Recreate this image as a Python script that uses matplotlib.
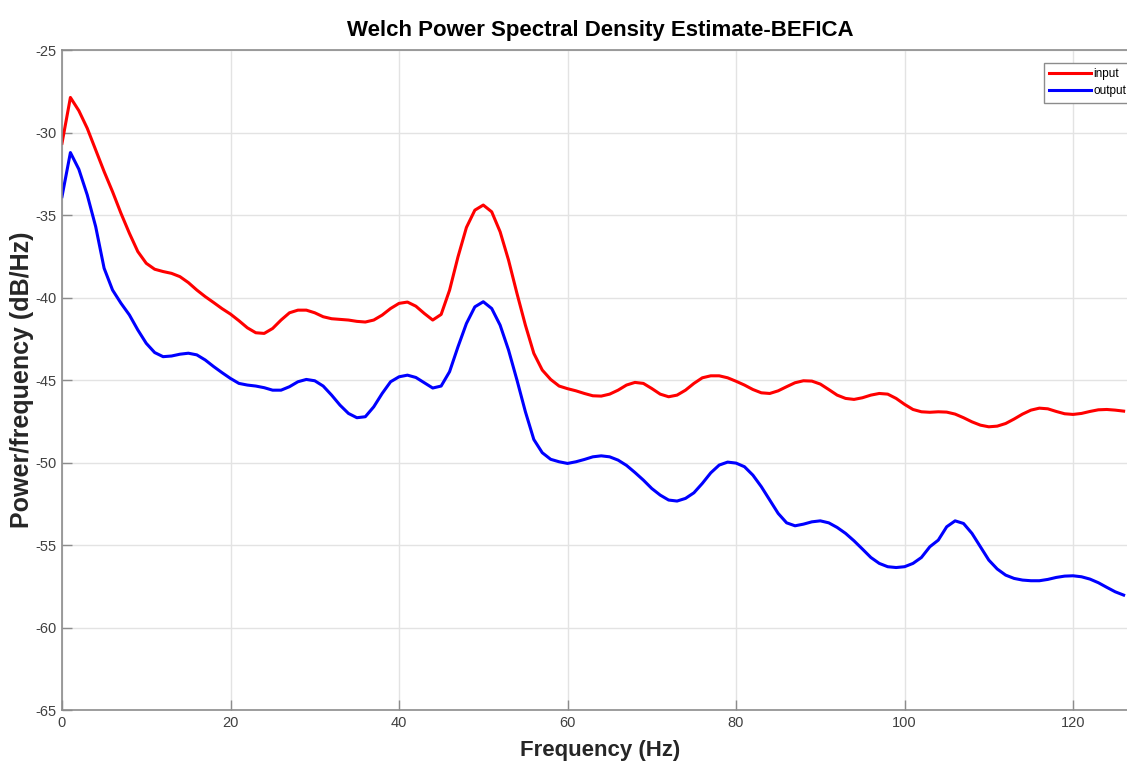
import numpy as np
import matplotlib
matplotlib.use("Agg")
import matplotlib.pyplot as plt

plt.rcParams['font.family'] = ['Liberation Sans', 'DejaVu Sans']
plt.rcParams['axes.unicode_minus'] = False

# PSD estimates, 1 Hz bins from 0 to 126 Hz
freq = np.arange(0, 127)

psd_input = [
    -30.65, -27.87, -28.67, -29.74, -31.05, -32.36, -33.58, -34.89, -36.10, -37.21,
    -37.92, -38.28, -38.42, -38.53, -38.73, -39.09, -39.54, -39.94, -40.30, -40.67,
    -41.00, -41.40, -41.83, -42.13, -42.17, -41.87, -41.36, -40.92, -40.76, -40.76,
    -40.92, -41.16, -41.28, -41.32, -41.36, -41.44, -41.48, -41.36, -41.06, -40.66,
    -40.35, -40.27, -40.52, -40.96, -41.36, -41.02, -39.55, -37.53, -35.75, -34.70,
    -34.39, -34.80, -36.01, -37.73, -39.75, -41.67, -43.38, -44.39, -44.96, -45.36,
    -45.52, -45.65, -45.81, -45.95, -45.97, -45.85, -45.61, -45.30, -45.14, -45.20,
    -45.51, -45.85, -46.01, -45.91, -45.61, -45.20, -44.86, -44.74, -44.74, -44.86,
    -45.07, -45.30, -45.57, -45.77, -45.81, -45.65, -45.40, -45.16, -45.04, -45.06,
    -45.24, -45.57, -45.91, -46.11, -46.17, -46.07, -45.91, -45.81, -45.85, -46.11,
    -46.47, -46.78, -46.92, -46.95, -46.92, -46.94, -47.06, -47.28, -47.53, -47.73,
    -47.83, -47.79, -47.63, -47.36, -47.06, -46.82, -46.70, -46.74, -46.90, -47.04,
    -47.08, -47.02, -46.90, -46.80, -46.78, -46.82, -46.88,
]

psd_output = [
    -33.88, -31.21, -32.22, -33.78, -35.70, -38.22, -39.54, -40.34, -41.05, -41.96,
    -42.77, -43.33, -43.58, -43.54, -43.43, -43.37, -43.47, -43.78, -44.18, -44.55,
    -44.90, -45.20, -45.30, -45.36, -45.46, -45.61, -45.61, -45.40, -45.10, -44.96,
    -45.04, -45.36, -45.91, -46.52, -47.02, -47.28, -47.22, -46.62, -45.81, -45.10,
    -44.80, -44.70, -44.84, -45.16, -45.48, -45.36, -44.49, -42.98, -41.57, -40.56,
    -40.25, -40.66, -41.67, -43.18, -45.00, -46.92, -48.60, -49.40, -49.80, -49.95,
    -50.05, -49.95, -49.81, -49.65, -49.59, -49.65, -49.85, -50.17, -50.60, -51.06,
    -51.57, -51.97, -52.27, -52.33, -52.17, -51.83, -51.26, -50.62, -50.15, -49.97,
    -50.03, -50.25, -50.76, -51.46, -52.27, -53.08, -53.65, -53.83, -53.73, -53.59,
    -53.53, -53.65, -53.93, -54.29, -54.74, -55.24, -55.75, -56.11, -56.31, -56.36,
    -56.31, -56.11, -55.75, -55.10, -54.70, -53.89, -53.53, -53.69, -54.29, -55.10,
    -55.91, -56.45, -56.82, -57.02, -57.12, -57.16, -57.16, -57.08, -56.96, -56.88,
    -56.86, -56.92, -57.06, -57.28, -57.56, -57.83, -58.03,
]

fig = plt.figure(figsize=(11.27, 7.71), dpi=100)
ax = fig.add_axes([0.055, 0.079, 0.945, 0.856])

ax.plot(freq, psd_input, color='#ff0000', linewidth=2.2, label='input')
ax.plot(freq, psd_output, color='#0000ff', linewidth=2.2, label='output')

ax.set_xlim(0, 126.4)
ax.set_ylim(-65, -25)
ax.set_xticks(np.arange(0, 121, 20))
ax.set_yticks(np.arange(-65, -24, 5))

ax.grid(True, color='#e3e3e3', linewidth=1.0)
ax.set_axisbelow(True)
for side in ['left', 'bottom', 'top']:
    ax.spines[side].set_color('#8c8c8c')
    ax.spines[side].set_linewidth(1.2)
ax.spines['right'].set_visible(False)
ax.tick_params(direction='in', length=7, width=1.0, color='#8c8c8c',
               labelsize=10.5, labelcolor='#404040', pad=4)

ax.set_title('Welch Power Spectral Density Estimate-BEFICA',
             fontsize=16, fontweight='bold', pad=10, x=0.505)
ax.set_xlabel('Frequency (Hz)', fontsize=16, fontweight='bold', color='#262626')
ax.xaxis.set_label_coords(0.505, -0.045)
ax.set_ylabel('Power/frequency (dB/Hz)', fontsize=18, fontweight='bold', color='#262626')
ax.yaxis.set_label_coords(-0.0265, 0.5)

leg = ax.legend(loc='upper right', bbox_to_anchor=(1.004, 0.981), fontsize=8.5,
                fancybox=False, framealpha=1, edgecolor='#8c8c8c', handlelength=3.5,
                borderaxespad=0.0, handletextpad=0.2, labelspacing=0.45,
                borderpad=0.45)
leg.get_frame().set_linewidth(1.0)

fig.savefig('out.png', dpi=100)
